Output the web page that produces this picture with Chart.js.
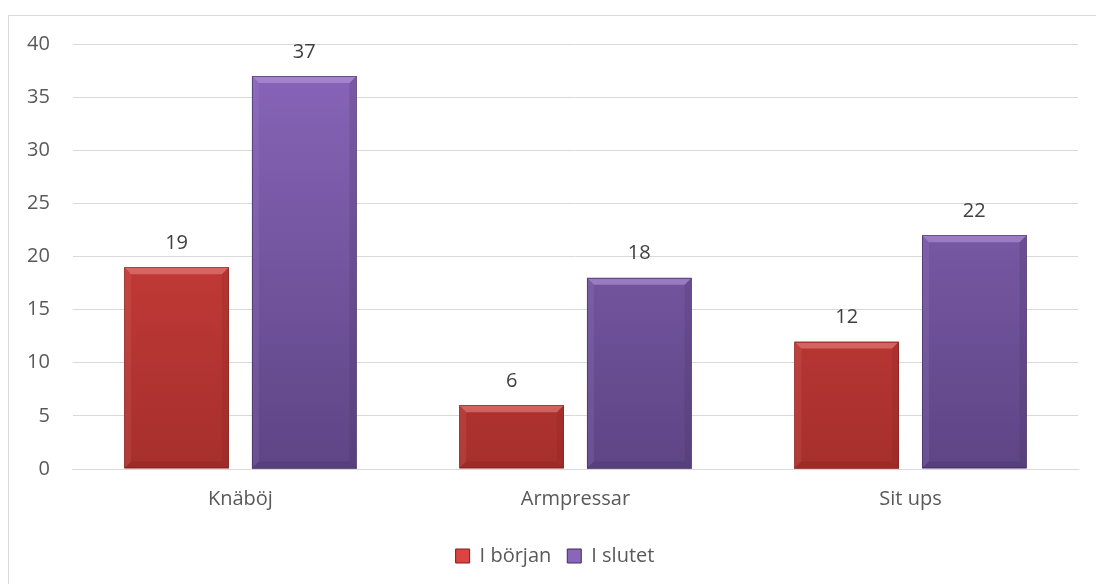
<!DOCTYPE html>
<html><head><meta charset="utf-8">
<script src="https://cdn.jsdelivr.net/npm/chart.js@4/dist/chart.umd.min.js"></script>
<style>
html,body{margin:0;padding:0;background:#fff;}
#wrap{position:absolute;left:8px;top:15px;width:1100px;height:580px;border:1px solid #d9d9d9;box-sizing:border-box;}
#c{position:absolute;left:0;top:0;}
</style></head><body>
<div id="wrap"></div>
<canvas id="c" width="1096" height="584"></canvas>
<script>
const categories = ["Knäböj", "Armpressar", "Sit ups"];
const seriesNames = ["I början", "I slutet"];
const iBorjan = [19, 6, 12];
const iSlutet = [37, 18, 22];
const yTicks = [0, 5, 10, 15, 20, 25, 30, 35, 40];

const FONT = "'Open Sans', sans-serif";
const FS = 20;
const palettes = [
  {top:"#db4442", bot:"#a62f2c", light:"#f3918d", dark:"#7e1f1d"},
  {top:"#8a66bb", bot:"#5e4585", light:"#bfa2e6", dark:"#3e2d5a"}
];

function grad(ctx, idx){
  const ch = ctx.chart; const a = ch.chartArea;
  if(!a) return palettes[idx].top;
  const g = ch.ctx.createLinearGradient(0, a.top, 0, a.bottom);
  g.addColorStop(0, palettes[idx].top);
  g.addColorStop(1, palettes[idx].bot);
  return g;
}

const bevelPlugin = {
  id:"bevel",
  afterDatasetsDraw(chart){
    const ctx = chart.ctx;
    chart.data.datasets.forEach((ds, di)=>{
      const meta = chart.getDatasetMeta(di);
      const p = palettes[di];
      meta.data.forEach(bar=>{
        const w = bar.width, x0 = bar.x - w/2, x1 = bar.x + w/2, y0 = bar.y, y1 = bar.base;
        const b = 7;
        ctx.save();
        ctx.fillStyle = p.light; ctx.globalAlpha = 0.5;
        ctx.beginPath(); ctx.moveTo(x0,y0); ctx.lineTo(x1,y0); ctx.lineTo(x1-b,y0+b); ctx.lineTo(x0+b,y0+b); ctx.closePath(); ctx.fill();
        ctx.globalAlpha = 0.12;
        ctx.beginPath(); ctx.moveTo(x0,y0); ctx.lineTo(x0+b,y0+b); ctx.lineTo(x0+b,y1-b); ctx.lineTo(x0,y1); ctx.closePath(); ctx.fill();
        ctx.fillStyle = p.dark; ctx.globalAlpha = 0.18;
        ctx.beginPath(); ctx.moveTo(x1,y0); ctx.lineTo(x1-b,y0+b); ctx.lineTo(x1-b,y1-b); ctx.lineTo(x1,y1); ctx.closePath(); ctx.fill();
        ctx.globalAlpha = 0.25;
        ctx.beginPath(); ctx.moveTo(x0,y1); ctx.lineTo(x0+b,y1-b); ctx.lineTo(x1-b,y1-b); ctx.lineTo(x1,y1); ctx.closePath(); ctx.fill();
        ctx.globalAlpha = 0.6;
        ctx.strokeStyle = p.dark; ctx.lineWidth = 1;
        ctx.strokeRect(Math.round(x0)+0.5, Math.round(y0)+0.5, Math.round(w)-1, Math.round(y1-y0)-1);
        ctx.restore();
      });
    });
  }
};

const labelPlugin = {
  id:"vals",
  afterDatasetsDraw(chart){
    const ctx = chart.ctx;
    ctx.save();
    ctx.font = FS + "px " + FONT;
    ctx.fillStyle = "#404040";
    ctx.textAlign = "center"; ctx.textBaseline = "middle";
    chart.data.datasets.forEach((ds, di)=>{
      chart.getDatasetMeta(di).data.forEach((bar, i)=>{
        ctx.fillText(String(ds.data[i]), bar.x, bar.y - 24);
      });
    });
    ctx.restore();
  }
};

const legendShift = {
  id:"legendShift",
  beforeDraw(chart){
    const lg = chart.legend;
    if(lg && !lg._shifted){ lg.left += 14; lg.right += 14; lg._shifted = true; }
  }
};

new Chart(document.getElementById("c"), {
  type:"bar",
  data:{
    labels: categories,
    datasets:[
      {label: seriesNames[0], data: iBorjan, backgroundColor: c=>grad(c,0), borderWidth:0},
      {label: seriesNames[1], data: iSlutet, backgroundColor: c=>grad(c,1), borderWidth:0}
    ]
  },
  options:{
    responsive:false, animation:false,
    layout:{padding:{left:4, right:18, top:44, bottom:8}},
    datasets:{bar:{categoryPercentage:0.762, barPercentage:0.82}},
    scales:{
      x:{
        grid:{display:false, drawTicks:false},
        border:{display:true, color:"#d9d9d9", width:1},
        ticks:{color:"#595959", font:{family:FONT, size:FS}, padding:18},
        afterFit(s){ s.height = 61; }
      },
      y:{
        min:0, max:40,
        afterBuildTicks(ax){ ax.ticks = yTicks.map(v=>({value:v})); },
        grid:{color:"#d9d9d9", lineWidth:1, drawTicks:false},
        border:{display:false},
        ticks:{color:"#595959", font:{family:FONT, size:FS}, padding:23}
      }
    },
    plugins:{
      legend:{
        position:"bottom",
        labels:{
          color:"#595959", font:{family:FONT, size:FS},
          boxWidth:14, boxHeight:14, padding:16,
          generateLabels(chart){
            return chart.data.datasets.map((d,i)=>({text:d.label, fillStyle:palettes[i].top, strokeStyle:palettes[i].dark, lineWidth:1, datasetIndex:i, fontColor:"#595959"}));
          }
        }
      },
      tooltip:{enabled:false}
    }
  },
  plugins:[bevelPlugin, labelPlugin, legendShift]
});
</script>
</body></html>
